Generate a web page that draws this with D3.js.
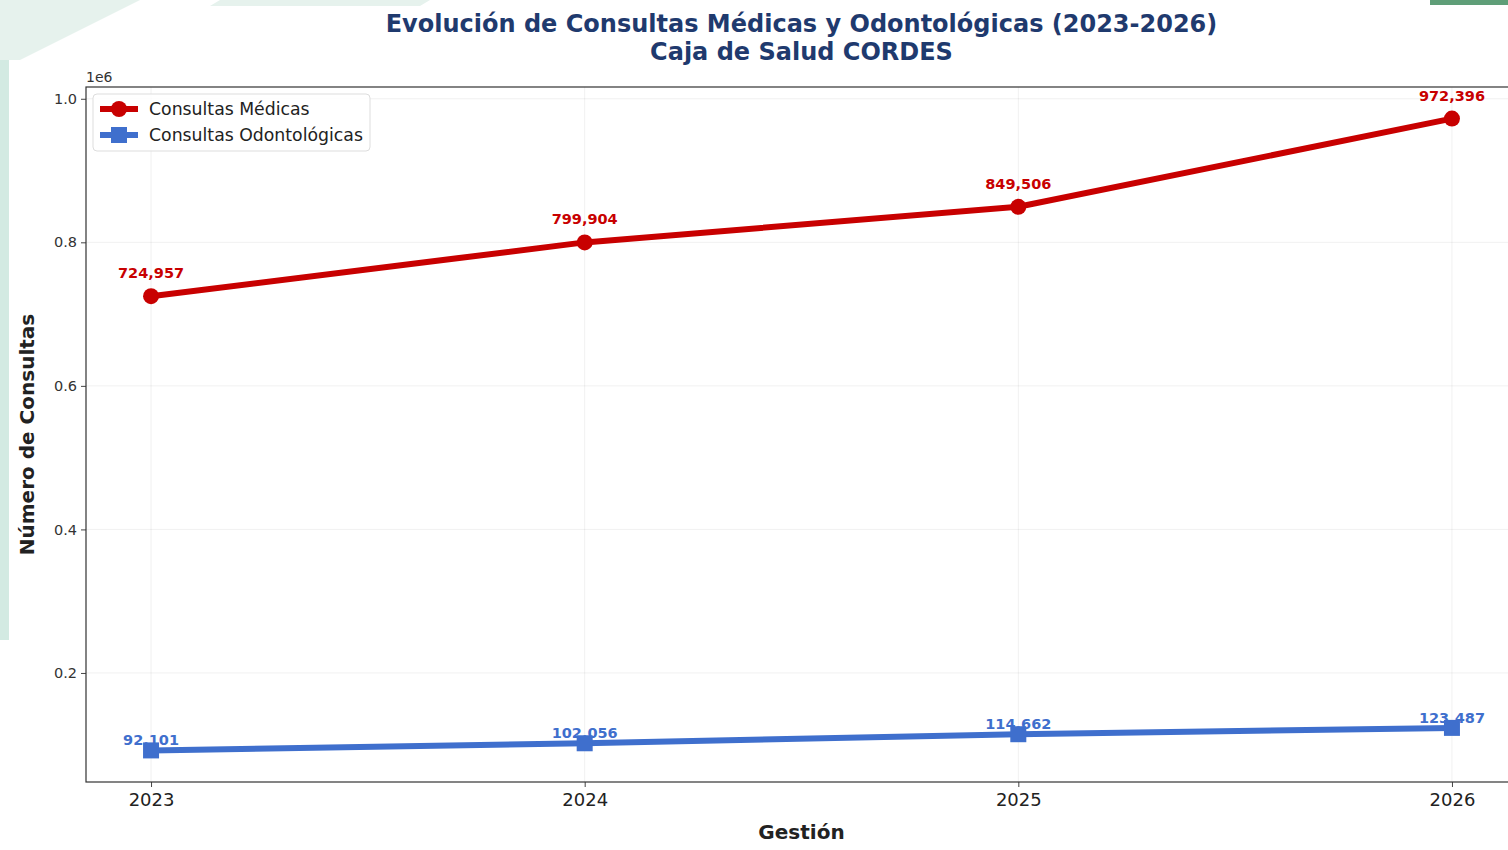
<!DOCTYPE html>
<html>
<head>
<meta charset="utf-8">
<script src="https://cdn.jsdelivr.net/npm/d3@7"></script>
<style>
  body { margin: 0; background: #fff; overflow: hidden; }
  svg { font-family: 'DejaVu Sans', sans-serif; display: block; }
</style>
</head>
<body>
<div class="root"></div>
<script>
var years = [2023, 2024, 2025, 2026];
var medicas = [724957, 799904, 849506, 972396];
var odonto = [92101, 102056, 114662, 123487];
var yTicks = [200000, 400000, 600000, 800000, 1000000];

function runChart() {
  var w = 1508, h = 850;
  var left = 86, top = 87, bottom = 782, right = 1517;

  var svg = d3.select('.root').append('svg')
    .attr('width', w)
    .attr('height', h);

  // faint slide background bits
  svg.append('rect').attr('x', 0).attr('y', 0).attr('width', 9).attr('height', 640).attr('fill', '#d3eae2');
  svg.append('path').attr('d', 'M0,0 L140,0 L20,60 L0,60 Z').attr('fill', '#e6f2ed');
  svg.append('path').attr('d', 'M220,0 L430,0 L420,6 L210,6 Z').attr('fill', '#e6f2ed');
  svg.append('rect').attr('x', 1430).attr('y', 0).attr('width', 78).attr('height', 5).attr('fill', '#5f9e78');

  var ext = d3.extent(medicas.concat(odonto));
  var pad = (ext[1] - ext[0]) * 0.05;
  var x = d3.scaleLinear().domain([2023 - 0.15, 2026 + 0.15]).range([left, right]);
  var y = d3.scaleLinear().domain([ext[0] - pad, ext[1] + pad]).range([bottom, top]);

  // grid
  var grid = svg.append('g').attr('stroke', '#000').attr('stroke-opacity', 0.08).attr('stroke-width', 0.8);
  grid.selectAll('.gx').data(years).enter().append('line')
    .attr('x1', function(d) { return x(d); }).attr('x2', function(d) { return x(d); })
    .attr('y1', top).attr('y2', bottom);
  grid.selectAll('.gy').data(yTicks).enter().append('line')
    .attr('y1', function(d) { return y(d); }).attr('y2', function(d) { return y(d); })
    .attr('x1', left).attr('x2', right);

  // axes
  var xAxis = svg.append('g')
    .attr('transform', 'translate(0,' + bottom + ')')
    .call(d3.axisBottom(x).tickValues(years).tickFormat(d3.format('d')).tickSize(5).tickPadding(6));
  var yAxis = svg.append('g')
    .attr('transform', 'translate(' + left + ',0)')
    .call(d3.axisLeft(y).tickValues(yTicks).tickFormat(function(d) { return (d / 1e6).toFixed(1); }).tickSize(5).tickPadding(4));
  [xAxis, yAxis].forEach(function(a) {
    a.select('.domain').remove();
    a.selectAll('line').attr('stroke', '#444');
    a.selectAll('text').attr('fill', '#222').style('font-family', 'DejaVu Sans');
  });
  xAxis.selectAll('text').style('font-size', '18px');
  yAxis.selectAll('text').style('font-size', '14.5px').attr('fill', '#333');

  svg.append('rect')
    .attr('x', left).attr('y', top)
    .attr('width', right - left).attr('height', bottom - top)
    .attr('fill', 'none').attr('stroke', '#333').attr('stroke-width', 1.2);

  svg.append('text').attr('x', left).attr('y', 82)
    .style('font-size', '14px').attr('fill', '#333').text('1e6');

  // lines
  var line = d3.line()
    .x(function(d, i) { return x(years[i]); })
    .y(function(d) { return y(d); });

  svg.append('path').datum(medicas)
    .attr('d', line).attr('fill', 'none')
    .attr('stroke', '#c80000').attr('stroke-width', 6).attr('stroke-linejoin', 'round');
  svg.append('path').datum(odonto)
    .attr('d', line).attr('fill', 'none')
    .attr('stroke', '#3f6fcd').attr('stroke-width', 6).attr('stroke-linejoin', 'round');

  svg.selectAll('.mk1').data(medicas).enter().append('circle')
    .attr('cx', function(d, i) { return x(years[i]); })
    .attr('cy', function(d) { return y(d); })
    .attr('r', 8).attr('fill', '#c80000');
  svg.selectAll('.mk2').data(odonto).enter().append('rect')
    .attr('x', function(d, i) { return x(years[i]) - 8; })
    .attr('y', function(d) { return y(d) - 8; })
    .attr('width', 16).attr('height', 16).attr('fill', '#3f6fcd');

  var fmt = d3.format(',');
  svg.selectAll('.lb1').data(medicas).enter().append('text')
    .attr('x', function(d, i) { return x(years[i]); })
    .attr('y', function(d) { return y(d) - 18; })
    .attr('text-anchor', 'middle')
    .style('font-size', '14.5px').style('font-weight', 'bold')
    .attr('fill', '#c80000').text(function(d) { return fmt(d); });
  svg.selectAll('.lb2').data(odonto).enter().append('text')
    .attr('x', function(d, i) { return x(years[i]); })
    .attr('y', function(d) { return y(d) - 5; })
    .attr('text-anchor', 'middle')
    .style('font-size', '14.5px').style('font-weight', 'bold')
    .attr('fill', '#3f6fcd').text(function(d) { return fmt(d); });

  // title and labels
  var cx = (left + right) / 2;
  svg.append('text').attr('x', cx).attr('y', 32).attr('text-anchor', 'middle')
    .style('font-size', '24px').style('font-weight', 'bold').attr('fill', '#1f3a6e')
    .text('Evolución de Consultas Médicas y Odontológicas (2023-2026)');
  svg.append('text').attr('x', cx).attr('y', 60).attr('text-anchor', 'middle')
    .style('font-size', '24px').style('font-weight', 'bold').attr('fill', '#1f3a6e')
    .text('Caja de Salud CORDES');

  svg.append('text').attr('x', cx).attr('y', 839).attr('text-anchor', 'middle')
    .style('font-size', '20px').style('font-weight', 'bold').attr('fill', '#222')
    .text('Gestión');
  svg.append('text')
    .attr('transform', 'translate(34,' + ((top + bottom) / 2) + ') rotate(-90)')
    .attr('text-anchor', 'middle')
    .style('font-size', '20px').style('font-weight', 'bold').attr('fill', '#222')
    .text('Número de Consultas');

  // legend
  var lg = svg.append('g').attr('transform', 'translate(93,94)');
  lg.append('rect').attr('width', 277).attr('height', 57).attr('rx', 4)
    .attr('fill', '#fff').attr('fill-opacity', 0.85).attr('stroke', '#ddd');
  var items = [
    {name: 'Consultas Médicas', color: '#c80000', shape: 'circle'},
    {name: 'Consultas Odontológicas', color: '#3f6fcd', shape: 'square'}
  ];
  var it = lg.selectAll('.it').data(items).enter().append('g')
    .attr('transform', function(d, i) { return 'translate(0,' + (15 + i * 26) + ')'; });
  it.append('line').attr('x1', 7).attr('x2', 45).attr('y1', 0).attr('y2', 0)
    .attr('stroke', function(d) { return d.color; }).attr('stroke-width', 6);
  it.each(function(d) {
    var g = d3.select(this);
    if (d.shape === 'circle') {
      g.append('circle').attr('cx', 26).attr('cy', 0).attr('r', 8).attr('fill', d.color);
    } else {
      g.append('rect').attr('x', 18).attr('y', -8).attr('width', 16).attr('height', 16).attr('fill', d.color);
    }
  });
  it.append('text').attr('x', 56).attr('y', 0).attr('dy', '0.35em')
    .style('font-size', '17.3px').attr('fill', '#222')
    .text(function(d) { return d.name; });
}

window.onload = function() {
  runChart();
};
</script>
</body>
</html>
